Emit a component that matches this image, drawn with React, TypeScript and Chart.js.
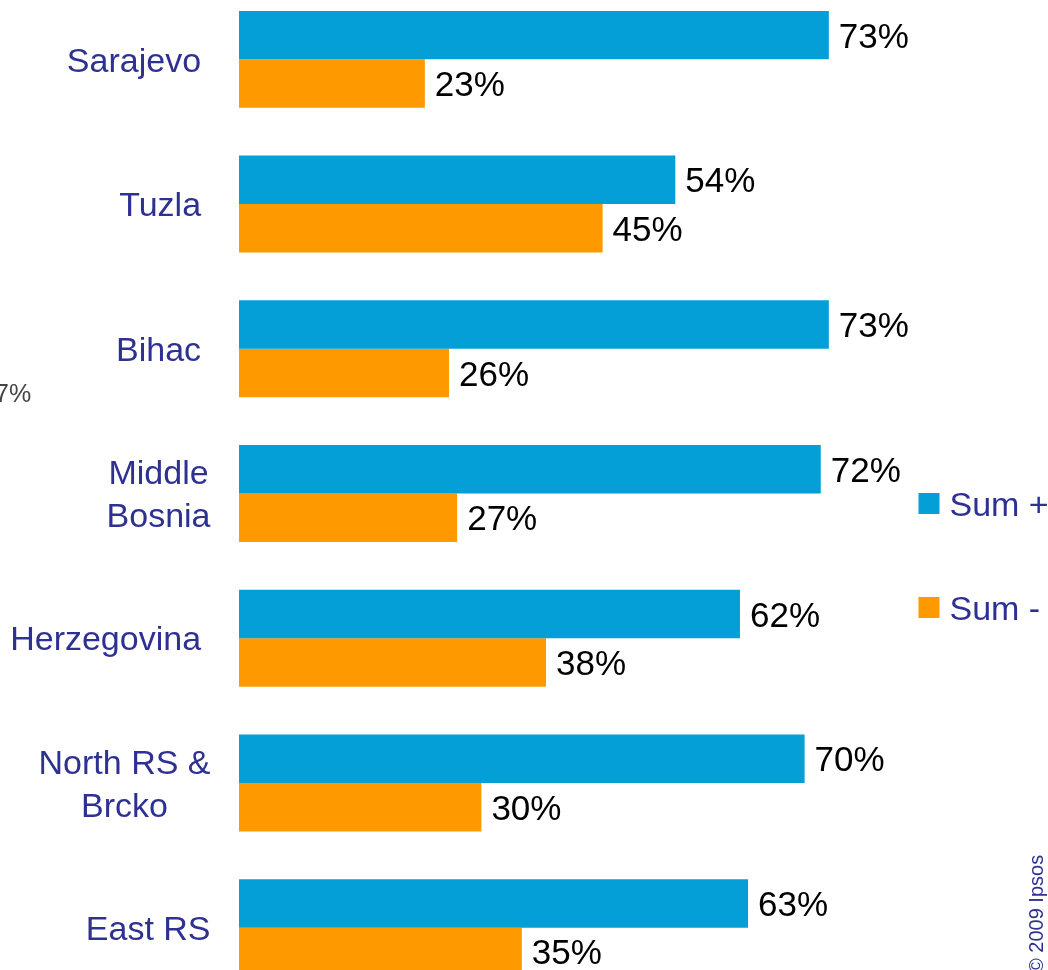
import React, { useEffect, useRef } from "react";
import { Chart, registerables } from "chart.js";

Chart.register(...registerables);

const categories: string[][] = [
  ["Sarajevo "],
  ["Tuzla "],
  ["Bihac "],
  ["Middle", "Bosnia"],
  ["Herzegovina "],
  ["North RS &", "Brcko"],
  ["East RS"],
];
const sumPlus: number[] = [73, 54, 73, 72, 62, 70, 63];
const sumMinus: number[] = [23, 45, 26, 27, 38, 30, 35];
const seriesNames: string[] = ["Sum +", "Sum -"];
const seriesColors: string[] = ["#039FD6", "#FF9900"];
const copyright = "\u00A9 2009 Ipsos";
const strayText = "7%";

const W = 1048;
const H = 1013;
const OFFSET_Y = -13; // canvas top relative to page
const FONT = "'Liberation Sans', Arial, sans-serif";
const LABEL_COLOR = "#2E3192";

const overlayPlugin = {
  id: "overlay",
  afterDatasetsDraw(chart: any) {
    const ctx = chart.ctx as CanvasRenderingContext2D;
    const yScale = chart.scales.y;
    ctx.save();

    // value labels
    ctx.font = `35px ${FONT}`;
    ctx.fillStyle = "#000000";
    ctx.textAlign = "left";
    ctx.textBaseline = "alphabetic";
    chart.data.datasets.forEach((ds: any, di: number) => {
      const meta = chart.getDatasetMeta(di);
      meta.data.forEach((el: any, i: number) => {
        ctx.fillText(`${ds.data[i]}%`, el.x + 10, el.y + 35 * 0.358);
      });
    });

    // category labels
    ctx.font = `34px ${FONT}`;
    ctx.fillStyle = LABEL_COLOR;
    ctx.textAlign = "center";
    const lineH = 43;
    const rightX = 210.5;
    categories.forEach((lines, i) => {
      const yc = yScale.getPixelForValue(i);
      const blockW = Math.max(...lines.map((l) => ctx.measureText(l).width));
      const cx = rightX - blockW / 2;
      lines.forEach((l, j) => {
        const y = yc + (j - (lines.length - 1) / 2) * lineH + 34 * 0.358;
        ctx.fillText(l, cx, y);
      });
    });

    // legend
    const legendItems = [
      { y: 503.5 - OFFSET_Y },
      { y: 607.5 - OFFSET_Y },
    ];
    legendItems.forEach((it, k) => {
      ctx.fillStyle = seriesColors[k];
      ctx.fillRect(918.5, it.y - 10.5, 21, 21);
      ctx.fillStyle = LABEL_COLOR;
      ctx.textAlign = "left";
      ctx.font = `34px ${FONT}`;
      ctx.fillText(seriesNames[k], 949.5, it.y + 34 * 0.358);
    });

    // stray text at left
    ctx.font = `25px ${FONT}`;
    ctx.fillStyle = "#444444";
    ctx.textAlign = "left";
    ctx.fillText(strayText, -5, 402 - OFFSET_Y);

    // copyright
    ctx.translate(1043, 973 - OFFSET_Y);
    ctx.rotate(-Math.PI / 2);
    ctx.font = `20px ${FONT}`;
    ctx.fillStyle = LABEL_COLOR;
    ctx.textAlign = "left";
    ctx.textBaseline = "alphabetic";
    ctx.fillText(copyright, 0, 0);

    ctx.restore();
  },
};

export default function App() {
  const canvasRef = useRef<HTMLCanvasElement | null>(null);

  useEffect(() => {
    if (!canvasRef.current) return;
    const chart = new Chart(canvasRef.current, {
      type: "bar",
      data: {
        labels: categories.map((c) => c.join(" ")),
        datasets: [
          {
            label: seriesNames[0],
            data: sumPlus,
            backgroundColor: seriesColors[0],
            borderWidth: 0,
            categoryPercentage: 0.67,
            barPercentage: 1,
          },
          {
            label: seriesNames[1],
            data: sumMinus,
            backgroundColor: seriesColors[1],
            borderWidth: 0,
            categoryPercentage: 0.67,
            barPercentage: 1,
          },
        ],
      },
      options: {
        indexAxis: "y",
        animation: false,
        responsive: false,
        devicePixelRatio: 1,
        layout: { padding: { left: 239, right: 1, top: 0, bottom: 0 } },
        plugins: {
          legend: { display: false },
          tooltip: { enabled: false },
          title: { display: false },
        },
        scales: {
          x: { display: false, min: 0, max: 100 },
          y: { display: false, grid: { display: false } },
        },
      },
      plugins: [overlayPlugin],
    });
    return () => chart.destroy();
  }, []);

  return (
    <div
      style={{
        position: "fixed",
        left: 0,
        top: 0,
        width: W,
        height: 970,
        overflow: "hidden",
        background: "#ffffff",
      }}
    >
      <canvas
        ref={canvasRef}
        width={W}
        height={H}
        style={{ position: "absolute", left: 0, top: OFFSET_Y, width: W, height: H }}
      />
    </div>
  );
}
